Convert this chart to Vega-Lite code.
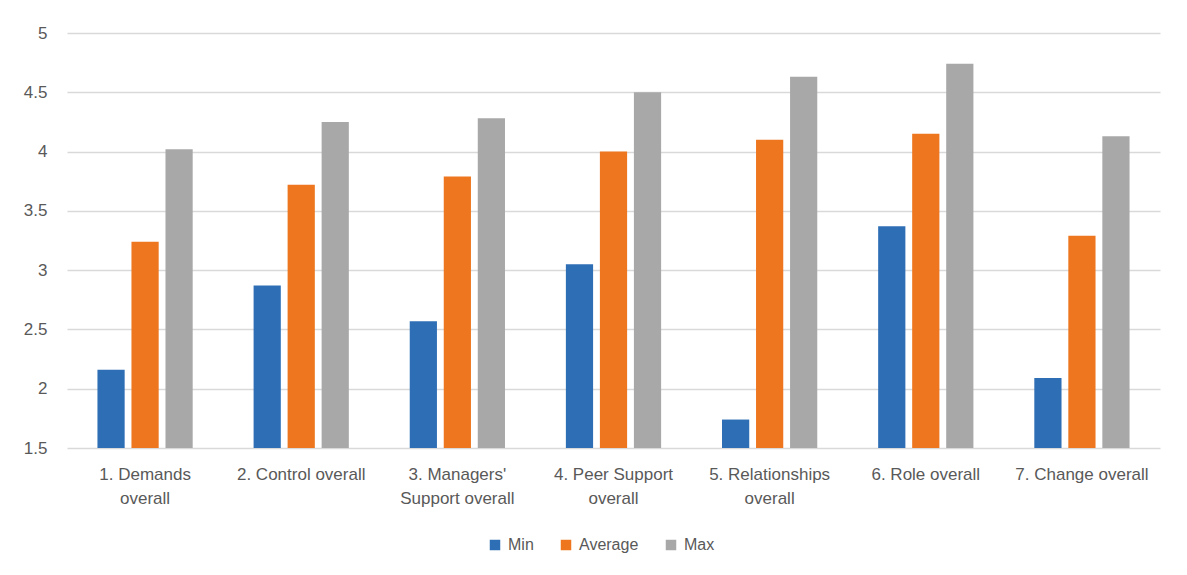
{
  "$schema": "https://vega.github.io/schema/vega-lite/v6.json",
  "width": 1093,
  "height": 415,
  "autosize": "none",
  "padding": {"left": 67, "top": 33, "right": 27, "bottom": 127},
  "background": "#ffffff",
  "config": {
    "font": "Liberation Sans",
    "view": {"stroke": null},
    "axis": {"labelColor": "#595959", "labelFont": "Liberation Sans"},
    "legend": {"labelColor": "#595959", "labelFont": "Liberation Sans"}
  },
  "data": {
    "values": [
      {"scale": "1. Demands overall", "stat": "Min", "value": 2.16},
      {"scale": "1. Demands overall", "stat": "Average", "value": 3.24},
      {"scale": "1. Demands overall", "stat": "Max", "value": 4.02},
      {"scale": "2. Control overall", "stat": "Min", "value": 2.87},
      {"scale": "2. Control overall", "stat": "Average", "value": 3.72},
      {"scale": "2. Control overall", "stat": "Max", "value": 4.25},
      {"scale": "3. Managers' Support overall", "stat": "Min", "value": 2.57},
      {"scale": "3. Managers' Support overall", "stat": "Average", "value": 3.79},
      {"scale": "3. Managers' Support overall", "stat": "Max", "value": 4.28},
      {"scale": "4. Peer Support overall", "stat": "Min", "value": 3.05},
      {"scale": "4. Peer Support overall", "stat": "Average", "value": 4.0},
      {"scale": "4. Peer Support overall", "stat": "Max", "value": 4.5},
      {"scale": "5. Relationships overall", "stat": "Min", "value": 1.74},
      {"scale": "5. Relationships overall", "stat": "Average", "value": 4.1},
      {"scale": "5. Relationships overall", "stat": "Max", "value": 4.63},
      {"scale": "6. Role overall", "stat": "Min", "value": 3.37},
      {"scale": "6. Role overall", "stat": "Average", "value": 4.15},
      {"scale": "6. Role overall", "stat": "Max", "value": 4.74},
      {"scale": "7. Change overall", "stat": "Min", "value": 2.09},
      {"scale": "7. Change overall", "stat": "Average", "value": 3.29},
      {"scale": "7. Change overall", "stat": "Max", "value": 4.13}
    ]
  },
  "mark": {"type": "bar"},
  "encoding": {
    "x": {
      "field": "scale",
      "type": "nominal",
      "sort": null,
      "scale": {"paddingInner": 0.39, "paddingOuter": 0.195},
      "axis": {
        "title": null,
        "labelAngle": 0,
        "labelFontSize": 17,
        "labelPadding": 18,
        "labelBaseline": "top",
        "labelLineHeight": 24,
        "labelLimit": 200,
        "ticks": false,
        "domain": false,
        "labelExpr": "datum.value == '1. Demands overall' ? ['1. Demands', 'overall'] : datum.value == \"3. Managers' Support overall\" ? [\"3. Managers'\", 'Support overall'] : datum.value == '4. Peer Support overall' ? ['4. Peer Support', 'overall'] : datum.value == '5. Relationships overall' ? ['5. Relationships', 'overall'] : datum.value"
      }
    },
    "xOffset": {
      "field": "stat",
      "type": "nominal",
      "sort": ["Min", "Average", "Max"],
      "scale": {"paddingInner": 0.2, "paddingOuter": 0}
    },
    "y": {
      "field": "value",
      "type": "quantitative",
      "scale": {"domain": [1.5, 5], "zero": false, "nice": false},
      "axis": {
        "title": null,
        "values": [1.5, 2, 2.5, 3, 3.5, 4, 4.5, 5],
        "format": "~g",
        "labelFontSize": 17,
        "labelPadding": 20,
        "ticks": false,
        "domain": false,
        "gridColor": "#D9D9D9",
        "gridWidth": 1.5
      }
    },
    "y2": {"datum": 1.5},
    "color": {
      "field": "stat",
      "type": "nominal",
      "sort": ["Min", "Average", "Max"],
      "scale": {"domain": ["Min", "Average", "Max"], "range": ["#2E6EB5", "#EE761E", "#A8A8A8"]},
      "legend": {
        "title": null,
        "orient": "none",
        "legendX": 420,
        "legendY": 504,
        "direction": "horizontal",
        "symbolType": "square",
        "symbolSize": 110,
        "symbolStrokeWidth": 0,
        "labelFontSize": 16,
        "labelOffset": 5,
        "columnPadding": 24
      }
    }
  }
}
